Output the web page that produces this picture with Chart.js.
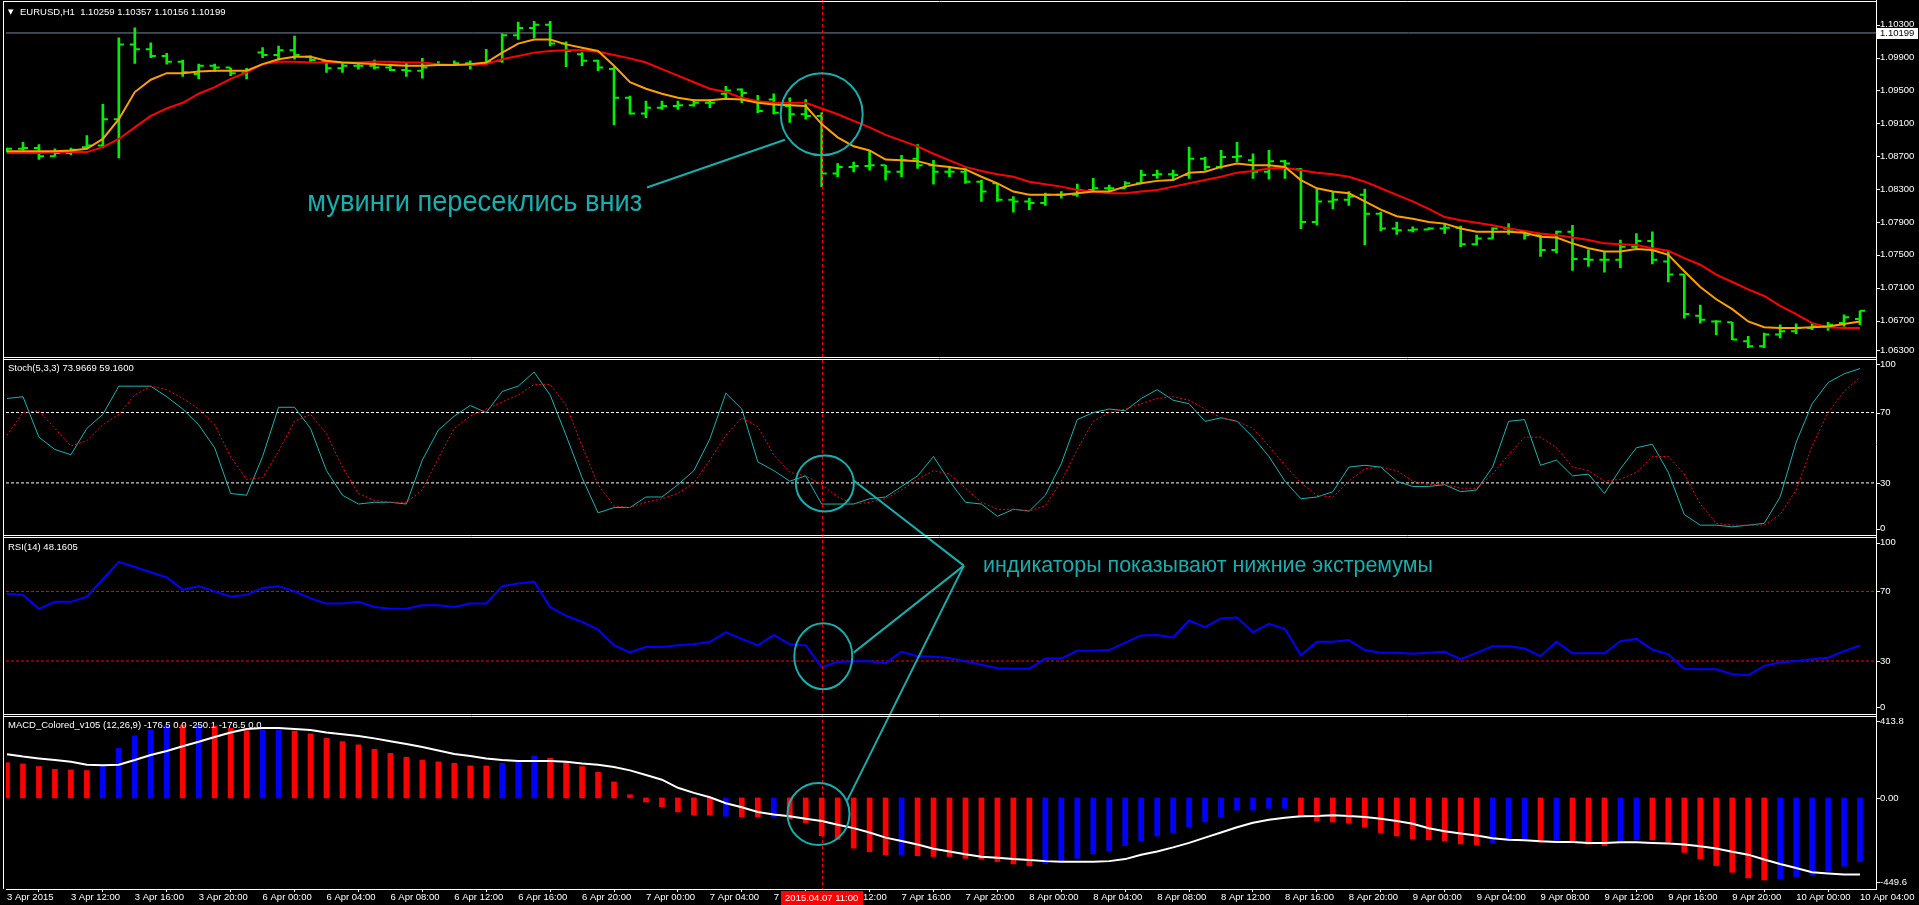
<!DOCTYPE html>
<html lang="ru">
<head>
<meta charset="UTF-8">
<title>EURUSD,H1</title>
<script src="https://cdn.jsdelivr.net/npm/chart.js"></script>
<style>
    html, body {
        margin: 0;
        padding: 0;
        background-color: #000;
        overflow: hidden;
    }
    #terminal-box {
        position: relative;
        width: 1919px;
        height: 905px;
    }
</style>
</head>
<body>
<div id="terminal-box">
    <canvas id="terminal"></canvas>
</div>
<script>
// ---- data (H1 bars, 3 Apr 08:00 .. 10 Apr 04:00) ----
const timeTicks = ['3 Apr 2015', '3 Apr 12:00', '3 Apr 16:00', '3 Apr 20:00', '6 Apr 00:00', '6 Apr 04:00',
    '6 Apr 08:00', '6 Apr 12:00', '6 Apr 16:00', '6 Apr 20:00', '7 Apr 00:00', '7 Apr 04:00', '7 Apr 08:00',
    '7 Apr 12:00', '7 Apr 16:00', '7 Apr 20:00', '8 Apr 00:00', '8 Apr 04:00', '8 Apr 08:00', '8 Apr 12:00',
    '8 Apr 16:00', '8 Apr 20:00', '9 Apr 00:00', '9 Apr 04:00', '9 Apr 08:00', '9 Apr 12:00', '9 Apr 16:00',
    '9 Apr 20:00', '10 Apr 00:00', '10 Apr 04:00'];
const barsPerTick = 4;

const priceOpen = [1.0877,1.0879,1.0880,1.0870,1.0874,1.0881,1.0883,1.0915,1.1006,1.1000,
    1.0992,1.0985,1.0970,1.0980,1.0978,1.0971,1.0996,1.0993,1.0999,1.0991,
    1.0985,1.0977,1.0980,1.0980,1.0978,1.0975,1.0974,1.0982,1.0981,1.0983,
    1.0983,1.0986,1.1017,1.1026,1.1030,1.1007,1.0994,1.0986,1.0976,1.0941,
    1.0922,1.0929,1.0931,1.0932,1.0935,1.0946,1.0951,1.0937,1.0939,1.0931,
    1.0921,1.0919,1.0849,1.0857,1.0858,1.0859,1.0851,1.0867,1.0859,1.0851,
    1.0851,1.0839,1.0837,1.0817,1.0815,1.0813,1.0823,1.0823,1.0829,1.0831,
    1.0831,1.0837,1.0847,1.0848,1.0847,1.0867,1.0857,1.0869,1.0865,1.0851,
    1.0864,1.0854,1.0790,1.0815,1.0817,1.0823,1.0800,1.0782,1.0780,1.0781,
    1.0782,1.0783,1.0763,1.0770,1.0782,1.0778,1.0774,1.0756,1.0778,1.0745,
    1.0744,1.0744,1.0760,1.0767,1.0742,1.0726,1.0676,1.0669,1.0668,1.0645,
    1.0639,1.0653,1.0657,1.0661,1.0663,1.0667,1.0672];
const priceHigh = [1.0880,1.0887,1.0884,1.0879,1.0880,1.0895,1.0933,1.1014,1.1026,1.1008,
    1.0995,1.0987,1.0982,1.0982,1.0977,1.0977,1.1002,1.1004,1.1016,1.0992,
    1.0986,1.0983,1.0984,1.0987,1.0982,1.0984,1.0989,1.0985,1.0986,1.0986,
    1.1000,1.1019,1.1033,1.1034,1.1034,1.1009,1.0996,1.0987,1.0978,1.0943,
    1.0937,1.0937,1.0937,1.0939,1.0939,1.0955,1.0952,1.0944,1.0946,1.0941,
    1.0939,1.0923,1.0861,1.0863,1.0877,1.0859,1.0871,1.0884,1.0865,1.0857,
    1.0855,1.0841,1.0837,1.0821,1.0819,1.0825,1.0827,1.0836,1.0843,1.0835,
    1.0839,1.0853,1.0853,1.0853,1.0881,1.0869,1.0877,1.0887,1.0873,1.0877,
    1.0865,1.0855,1.0831,1.0826,1.0827,1.0830,1.0802,1.0790,1.0784,1.0783,
    1.0787,1.0785,1.0774,1.0783,1.0788,1.0779,1.0774,1.0779,1.0786,1.0756,
    1.0754,1.0768,1.0776,1.0778,1.0755,1.0726,1.0689,1.0670,1.0668,1.0651,
    1.0655,1.0665,1.0666,1.0667,1.0668,1.0677,1.0682];
const priceLow = [1.0875,1.0877,1.0866,1.0870,1.0872,1.0879,1.0880,1.0868,1.0983,1.0990,
    1.0982,1.0967,1.0964,1.0973,1.0968,1.0964,1.0990,1.0987,1.0988,1.0984,
    1.0972,1.0972,1.0976,1.0976,1.0974,1.0967,1.0965,1.0980,1.0980,1.0976,
    1.0982,1.0984,1.1012,1.1014,1.1004,1.0979,1.0980,1.0974,1.0908,1.0921,
    1.0917,1.0927,1.0927,1.0931,1.0929,1.0939,1.0935,1.0923,1.0921,1.0911,
    1.0915,1.0833,1.0845,1.0851,1.0853,1.0841,1.0845,1.0855,1.0836,1.0845,
    1.0837,1.0815,1.0815,1.0802,1.0805,1.0810,1.0819,1.0821,1.0827,1.0827,
    1.0831,1.0837,1.0843,1.0841,1.0843,1.0853,1.0855,1.0863,1.0843,1.0842,
    1.0843,1.0782,1.0786,1.0806,1.0810,1.0762,1.0779,1.0775,1.0778,1.0781,
    1.0776,1.0760,1.0762,1.0770,1.0775,1.0769,1.0748,1.0752,1.0731,1.0736,
    1.0729,1.0734,1.0758,1.0739,1.0717,1.0673,1.0667,1.0653,1.0647,1.0637,
    1.0637,1.0649,1.0654,1.0659,1.0658,1.0663,1.0665];
const priceClose = [1.0879,1.0880,1.0870,1.0874,1.0878,1.0883,1.0915,1.1006,1.1000,1.0992,
    1.0985,1.0972,1.0980,1.0978,1.0971,1.0975,1.0993,1.0999,1.0993,1.0987,
    1.0977,1.0980,1.0980,1.0978,1.0975,1.0974,1.0978,1.0981,1.0983,1.0981,
    1.0985,1.1017,1.1026,1.1030,1.1007,1.0998,1.0986,1.0978,1.0941,1.0922,
    1.0929,1.0931,1.0932,1.0935,1.0935,1.0950,1.0947,1.0925,1.0923,1.0921,
    1.0919,1.0849,1.0857,1.0858,1.0859,1.0851,1.0865,1.0859,1.0851,1.0851,
    1.0839,1.0827,1.0817,1.0815,1.0813,1.0823,1.0823,1.0829,1.0831,1.0831,
    1.0837,1.0847,1.0848,1.0847,1.0867,1.0857,1.0869,1.0870,1.0851,1.0864,
    1.0861,1.0790,1.0815,1.0817,1.0821,1.0800,1.0782,1.0780,1.0781,1.0782,
    1.0783,1.0763,1.0770,1.0782,1.0781,1.0774,1.0756,1.0778,1.0745,1.0744,
    1.0744,1.0760,1.0767,1.0744,1.0726,1.0678,1.0671,1.0669,1.0647,1.0639,
    1.0653,1.0657,1.0661,1.0663,1.0665,1.0674,1.0682];

const maFast = [1.0876,1.0876,1.0876,1.0876,1.0877,1.0879,1.0891,1.0915,1.0948,1.0963,
    1.0971,1.0971,1.0973,1.0974,1.0974,1.0974,1.0982,1.0988,1.0991,1.0991,
    1.0986,1.0984,1.0983,1.0982,1.0981,1.0980,1.0980,1.0981,1.0981,1.0982,
    1.0984,1.0996,1.1007,1.1012,1.1012,1.1006,1.1002,1.0998,1.0980,1.0960,
    1.0952,1.0946,1.0941,1.0938,1.0938,1.0940,1.0939,1.0935,1.0933,1.0932,
    1.0931,1.0909,1.0893,1.0882,1.0877,1.0866,1.0865,1.0864,1.0859,1.0857,
    1.0854,1.0845,1.0837,1.0827,1.0823,1.0823,1.0823,1.0825,1.0827,1.0827,
    1.0833,1.0837,1.0840,1.0841,1.0850,1.0851,1.0857,1.0861,1.0859,1.0859,
    1.0857,1.0841,1.0831,1.0827,1.0825,1.0815,1.0805,1.0797,1.0794,1.0790,
    1.0788,1.0782,1.0778,1.0778,1.0778,1.0777,1.0772,1.0771,1.0764,1.0758,
    1.0754,1.0754,1.0757,1.0756,1.0750,1.0730,1.0711,1.0696,1.0684,1.0669,
    1.0662,1.0661,1.0661,1.0662,1.0663,1.0666,1.0669];
const maSlow = [1.0874,1.0874,1.0874,1.0875,1.0875,1.0875,1.0881,1.0891,1.0905,1.0919,
    1.0928,1.0935,1.0946,1.0954,1.0964,1.0972,1.0982,1.0985,1.0985,1.0984,
    1.0984,1.0984,1.0984,1.0985,1.0985,1.0984,1.0984,1.0982,1.0981,1.0981,
    1.0982,1.0988,1.0992,1.0996,1.0998,1.0999,1.0999,1.0997,1.0993,1.0989,
    1.0984,1.0976,1.0968,1.0960,1.0952,1.0948,1.0941,1.0937,1.0935,1.0935,
    1.0935,1.0928,1.0921,1.0913,1.0905,1.0896,1.0889,1.0882,1.0873,1.0865,
    1.0857,1.0852,1.0848,1.0845,1.0839,1.0836,1.0833,1.0829,1.0827,1.0825,
    1.0825,1.0827,1.0829,1.0833,1.0837,1.0841,1.0845,1.0850,1.0852,1.0855,
    1.0856,1.0853,1.0850,1.0848,1.0845,1.0839,1.0831,1.0823,1.0815,1.0806,
    1.0796,1.0792,1.0789,1.0786,1.0782,1.0779,1.0776,1.0774,1.0771,1.0768,
    1.0764,1.0763,1.0762,1.0758,1.0755,1.0746,1.0738,1.0726,1.0717,1.0708,
    1.0700,1.0688,1.0678,1.0667,1.0662,1.0661,1.0661];

const stochMain = [78,79,56,49,46,61,69,85,85,85, 79,72,63,50,24,23,45,73,73,61,
    37,23,18,19,19,18,43,60,68,74, 70,82,85,93,80,57,33,13,16,16,
    22,22,29,37,55,81,72,42,37,31, 34,18,18,18,21,22,28,34,45,31,
    19,18,11,15,14,23,41,66,70,72, 71,78,83,77,75,65,67,65,56,45,
    31,21,22,25,39,40,39,31,28,28, 29,25,26,39,65,66,40,43,34,35,
    24,38,50,52,36,12,6,6,5,6, 7,22,53,75,87,92,95];
const stochSignal = [57,70,71,61,51,54,63,69,80,85, 83,78,72,63,45,32,33,48,65,69,
    58,39,24,20,19,19,26,44,61,68, 72,76,80,86,86,74,51,29,17,16,
    19,21,24,30,43,57,67,62,46,36, 34,29,22,18,19,21,26,32,37,35,
    27,19,15,15,14,17,31,49,65,70, 72,75,78,79,77,72,67,65,61,51,
    40,30,23,22,31,38,39,37,31,29, 29,27,27,35,46,56,56,50,39,37,
    31,32,36,45,45,35,18,7,6,6, 6,12,26,51,70,82,90];
const rsiValues = [68.6,68,60,64,64,67,77,87,84,81, 78,71,73,70,67,68,72,73,70,66,
    63,63,64,61,60,60,62,62,61,63, 63,73,74.5,75.5,61,56,52.5,48,39,35,
    38,38,39,39.6,41,46.5,42.7,39,45,39.6, 39,26.5,29.4,29.8,29.8,28.8,35.3,32.7,32.4,31.8,
    29.8,27.8,25.9,25.5,25.5,31.4,31.4,35.9,35.9,36.3, 40.6,44.7,45,43.5,53.3,49.4,54.5,55,46.5,51.4,
    48.4,33.3,41,41,42,36.3,34.7,34.7,34.2,34.7, 35.3,31,34.7,38.5,38.5,37.2,32.8,41,34.4,34.4,
    34.4,41.4,42.7,36.6,33.8,25.6,25.3,25.3,22.4,21.8, 27.2,29.1,30,31,31.9,35.7,38.9];

const macdHist = [174,168,155,141,138,135,155,245,306,335, 355,360,360,355,344,332,335,335,330,316,
    294,278,262,240,220,201,187,178,171,158, 158,171,184,207,196,176,155,127,79,16,
    -20,-43,-69,-85,-85,-90,-94,-94,-94,-105, -123,-187,-205,-248,-265,-281,-281,-285,-289,-289,
    -298,-303,-314,-326,-335,-324,-315,-298,-276,-262, -235,-214,-188,-171,-142,-119,-94,-60,-60,-51,
    -51,-94,-114,-119,-125,-145,-171,-188,-202,-207, -212,-227,-232,-220,-204,-212,-218,-210,-218,-228,
    -235,-218,-207,-207,-218,-269,-301,-334,-367,-395, -405,-400,-388,-380,-361,-337,-315];
// R = red bar, B = blue bar
const macdColors = ('RRRRRRBBBBB' + 'RBRRRBB' + 'RRRRRRRRRRRRR' + 'BBB' + 'RRRRRRRRRRR' + 'BRRB' +
    'RRRRRRR' + 'B' + 'RRRRRRRR' + 'BBBBBBBBBBBBBBBB' + 'RRRRRRRRRRRR' + 'BBBRB' + 'RRRBB' +
    'RRRRRRRR' + 'BBBBBB').split('');
const macdSignal = [216,204,195,187,178,164,161,164,187,212, 232,255,277,301,323,340,345,345,340,335,
    323,314,306,294,280,266,251,234,217,207, 195,187,182,182,182,178,170,164,153,136,
    113,90,50,25,3,-26,-46,-69,-82,-91, -103,-114,-132,-149,-171,-196,-213,-230,-251,-264,
    -278,-290,-295,-302,-307,-312,-315,-315,-315,-312, -302,-281,-264,-244,-222,-196,-171,-145,-123,-108,
    -98,-91,-89,-85,-89,-94,-103,-114,-128,-150, -165,-176,-186,-199,-206,-209,-214,-217,-217,-222,
    -222,-219,-219,-222,-225,-230,-239,-250,-266,-280, -304,-326,-346,-367,-373,-378,-378];

const priceTicks = [1.103, 1.099, 1.095, 1.091, 1.087, 1.083, 1.079, 1.075, 1.071, 1.067, 1.063];
const stochTicks = [100, 70, 30, 0];
const rsiTicks = [100, 70, 30, 0];
const macdTicks = [413.8, 0, -449.6];
const macdTickLabels = ['413.8', '0.00', '-449.6'];
const stochLevels = [70, 30];
const rsiLevels = [70, 30];
const bidPrice = 1.10199;
const markIndex = 51;
const markLabel = '2015.04.07 11:00';

const titles = {
    yP: 'EURUSD,H1  1.10259 1.10357 1.10156 1.10199',
    yS: 'Stoch(5,3,3) 73.9669 59.1600',
    yR: 'RSI(14) 48.1605',
    yM: 'MACD_Colored_v105 (12,26,9) -176.5 0.0 -250.1 -176.5 0.0'
};

// hand drawn marks on the chart, placed in chart units
const notes = {
    circles: [
        { axis: 'yP', x: 51.0, y: 1.0921, rx: 41, ry: 41 },
        { axis: 'yS', x: 51.2, y: 29.7, rx: 29, ry: 28 },
        { axis: 'yR', x: 51.1, y: 32.8, rx: 29, ry: 33 },
        { axis: 'yM', x: 50.8, y: -79, rx: 31, ry: 31 }
    ],
    lines: [
        [{ axis: 'yP', x: 48.7, y: 1.0890 }, { axis: 'yP', x: 40.06, y: 1.0832 }],
        [{ axis: 'yR', x: 59.9, y: 84.8 }, { axis: 'yS', x: 53.0, y: 31.4 }],
        [{ axis: 'yR', x: 59.9, y: 84.8 }, { axis: 'yR', x: 53.0, y: 34.8 }],
        [{ axis: 'yR', x: 59.9, y: 84.8 }, { axis: 'yM', x: 52.6, y: -12 }]
    ],
    texts: [
        { axis: 'yP', x: 18.8, y: 1.0813, text: 'мувинги пересеклись вниз', size: 30, width: 335 },
        { axis: 'yR', x: 61.1, y: 84.6, text: 'индикаторы показывают нижние экстремумы', size: 22, width: 450 }
    ]
};

// ---- styling ----
const FONT = '"Liberation Sans", Arial, sans-serif';
const GREEN = '#00f000';
const TEAL = '#19adab';
const xMin = -0.0625;   // first bar sits one pixel right of the frame
const xMax = 117.0;
const tickShift = 0.16; // open / close ticks left and right of the stick

const bars = priceOpen.map((v, i) => i);

function points(values, shift) {
    return values.map((v, i) => ({ x: i + (shift || 0), y: v }));
}
function level(v) {
    return [{ x: xMin, y: v }, { x: xMax, y: v }];
}

const datasets = [
    { type: 'line', label: 'MA fast', yAxisID: 'yP', data: points(maFast), borderColor: '#ffa000',
        borderWidth: 2, pointRadius: 0, tension: 0, order: 0 },
    { type: 'line', label: 'MA slow', yAxisID: 'yP', data: points(maSlow), borderColor: '#ff0000',
        borderWidth: 2, pointRadius: 0, tension: 0, order: 1 },
    { type: 'line', label: 'open', yAxisID: 'yP', data: points(priceOpen, -tickShift), showLine: false,
        pointStyle: 'line', pointRadius: 2.5, pointBorderWidth: 2, pointBorderColor: GREEN, order: 2 },
    { type: 'line', label: 'close', yAxisID: 'yP', data: points(priceClose, tickShift), showLine: false,
        pointStyle: 'line', pointRadius: 2.5, pointBorderWidth: 2, pointBorderColor: GREEN, order: 2 },
    { type: 'bar', label: 'range', yAxisID: 'yP', data: bars.map(i => ({ x: i, y: [priceLow[i], priceHigh[i]] })),
        backgroundColor: GREEN, barThickness: 2, grouped: false, order: 3 },
    { type: 'line', label: 'bid', yAxisID: 'yP', data: level(bidPrice), borderColor: '#778899',
        borderWidth: 1, pointRadius: 0, order: 9 },

    { type: 'line', label: 'stoch signal', yAxisID: 'yS', data: points(stochSignal), borderColor: '#ff0000',
        borderWidth: 1, borderDash: [2, 2], pointRadius: 0, tension: 0, order: 0 },
    { type: 'line', label: 'stoch main', yAxisID: 'yS', data: points(stochMain), borderColor: '#20b2aa',
        borderWidth: 1, pointRadius: 0, tension: 0, order: 1 },
    ...stochLevels.map(v => ({ type: 'line', label: 'stoch ' + v, yAxisID: 'yS', data: level(v),
        borderColor: '#ffffff', borderWidth: 1, borderDash: [3, 2], pointRadius: 0, order: 9 })),

    { type: 'line', label: 'rsi', yAxisID: 'yR', data: points(rsiValues), borderColor: '#0000ff',
        borderWidth: 2, pointRadius: 0, tension: 0, order: 0 },
    ...rsiLevels.map(v => ({ type: 'line', label: 'rsi ' + v, yAxisID: 'yR', data: level(v),
        borderColor: '#ff0000', borderWidth: 1, borderDash: [3, 2], pointRadius: 0, order: 9 })),

    { type: 'line', label: 'macd signal', yAxisID: 'yM', data: points(macdSignal), borderColor: '#ffffff',
        borderWidth: 2, pointRadius: 0, tension: 0, order: 0 },
    { type: 'bar', label: 'macd', yAxisID: 'yM', data: bars.map(i => ({ x: i, y: [0, macdHist[i]] })),
        backgroundColor: macdColors.map(c => c === 'B' ? '#0000ff' : '#ff0000'),
        barThickness: 5, grouped: false, order: 1 }
];

function paneAxis(weight, min, max) {
    return {
        type: 'linear', position: 'right', stack: 'panes', stackWeight: weight,
        min: min, max: max,
        grid: { display: false }, border: { display: false }, ticks: { display: false },
        afterFit(scale) { scale.width = 43; }
    };
}

const axisLabels = [
    { axis: 'yP', values: priceTicks, fmt: v => v.toFixed(5) },
    { axis: 'yS', values: stochTicks, fmt: v => String(v) },
    { axis: 'yR', values: rsiTicks, fmt: v => String(v) },
    { axis: 'yM', values: macdTicks, fmt: (v, k) => macdTickLabels[k] }
];

function hline(ctx, x1, x2, y) {
    ctx.beginPath(); ctx.moveTo(x1, y); ctx.lineTo(x2, y); ctx.stroke();
}
function vline(ctx, x, y1, y2) {
    ctx.beginPath(); ctx.moveTo(x, y1); ctx.lineTo(x, y2); ctx.stroke();
}

const terminalPlugin = {
    id: 'terminal',
    afterDatasetsDraw(chart) {
        const { ctx, chartArea: ca, scales } = chart;
        const sx = scales.x;
        const at = p => [sx.getPixelForValue(p.x), scales[p.axis].getPixelForValue(p.y)];
        ctx.save();
        // time marker
        const vx = Math.round(sx.getPixelForValue(markIndex)) + 0.5;
        ctx.strokeStyle = '#ff0000';
        ctx.lineWidth = 1;
        ctx.setLineDash([3, 3]);
        vline(ctx, vx, 0, ca.bottom);
        ctx.setLineDash([]);

        // annotations
        ctx.strokeStyle = TEAL;
        ctx.lineWidth = 2;
        notes.circles.forEach(c => {
            const [cx, cy] = at(c);
            ctx.beginPath();
            ctx.ellipse(cx, cy, c.rx, c.ry, 0, 0, Math.PI * 2);
            ctx.stroke();
        });
        notes.lines.forEach(([a, b]) => {
            const p1 = at(a), p2 = at(b);
            ctx.beginPath(); ctx.moveTo(p1[0], p1[1]); ctx.lineTo(p2[0], p2[1]); ctx.stroke();
        });
        ctx.fillStyle = TEAL;
        ctx.textAlign = 'left';
        ctx.textBaseline = 'middle';
        notes.texts.forEach(t => {
            const [tx, ty] = at(t);
            ctx.font = t.size + 'px ' + FONT;
            ctx.fillText(t.text, tx, ty, t.width);
        });
        ctx.restore();
    },
    afterDraw(chart) {
        const { ctx, chartArea: ca, scales } = chart;
        ctx.save();
        ctx.strokeStyle = '#ffffff';
        ctx.lineWidth = 1;
        // window frame and pane separators
        vline(ctx, 3.5, 1, ca.bottom);
        vline(ctx, ca.right + 0.5, 0, ca.bottom);
        hline(ctx, 3, ca.right, 1.5);
        ['yS', 'yR', 'yM'].forEach(id => {
            const b = Math.floor(scales[id].top);
            hline(ctx, 3, ca.right, b + 0.5);
            hline(ctx, 3, ca.right, b + 2.5);
        });

        // right scale labels
        ctx.fillStyle = '#ffffff';
        ctx.font = '9.5px ' + FONT;
        ctx.textAlign = 'left';
        ctx.textBaseline = 'middle';
        axisLabels.forEach(a => {
            const s = scales[a.axis];
            a.values.forEach((v, k) => {
                const py = s.getPixelForValue(v);
                const ty = Math.min(Math.max(py, s.top + 7), s.bottom - 7);
                ctx.fillText(a.fmt(v, k), ca.right + 4, ty);
                ctx.fillRect(ca.right + 1, Math.round(ty), 3, 1);
            });
        });

        // bid price box
        const by = scales.yP.getPixelForValue(bidPrice);
        ctx.fillStyle = '#ffffff';
        ctx.fillRect(ca.right + 1, Math.round(by) - 5, 41, 11);
        ctx.fillStyle = '#000000';
        ctx.fillText(bidPrice.toFixed(5), ca.right + 4, by + 0.5);

        // pane titles
        ctx.fillStyle = '#ffffff';
        ctx.font = '7px "DejaVu Sans"';
        ctx.fillText('▼', 8, scales.yP.top + 6);
        ctx.font = '9.5px ' + FONT;
        ctx.fillText(titles.yP, 20, scales.yP.top + 6);
        ['yS', 'yR', 'yM'].forEach(id => {
            ctx.fillText(titles[id], 8, scales[id].top + 11.5);
        });

        // time marker label
        const mx = scales.x.getPixelForValue(markIndex);
        ctx.fillStyle = '#ff0000';
        ctx.fillRect(Math.round(mx) - 41, ca.bottom + 2, 82, 14);
        ctx.fillStyle = '#ffffff';
        ctx.textAlign = 'center';
        ctx.fillText(markLabel, mx, ca.bottom + 9);
        ctx.restore();
    }
};

Chart.defaults.font.family = FONT;
Chart.defaults.color = '#ffffff';

new Chart(document.getElementById('terminal'), {
    type: 'line',
    data: { datasets: datasets },
    options: {
        responsive: true,
        maintainAspectRatio: false,
        animation: false,
        events: [],
        layout: { padding: { left: 3, top: 3, right: 0, bottom: 0 } },
        plugins: { legend: { display: false }, tooltip: { enabled: false } },
        scales: {
            x: {
                type: 'linear', min: xMin, max: xMax, offset: false,
                afterFit(scale) { scale.height = 16; },
                afterBuildTicks(scale) {
                    scale.ticks = timeTicks.map((t, k) => ({ value: k * barsPerTick }));
                },
                ticks: {
                    autoSkip: false, maxRotation: 0, minRotation: 0, align: 'start', padding: 0,
                    color: '#ffffff', font: { size: 9.5 },
                    callback: v => timeTicks[Math.round(v / barsPerTick)]
                },
                grid: { display: true, drawOnChartArea: false, drawTicks: true, tickLength: 3, color: '#ffffff' },
                border: { display: true, color: '#ffffff' }
            },
            yP: paneAxis(352.5, 1.06254, 1.10527),
            yS: paneAxis(179, 0, 101.4),
            yR: paneAxis(179, -0.5, 102),
            yM: paneAxis(175.5, -449.6, 413.8)
        }
    },
    plugins: [terminalPlugin]
});
</script>
</body>
</html>
